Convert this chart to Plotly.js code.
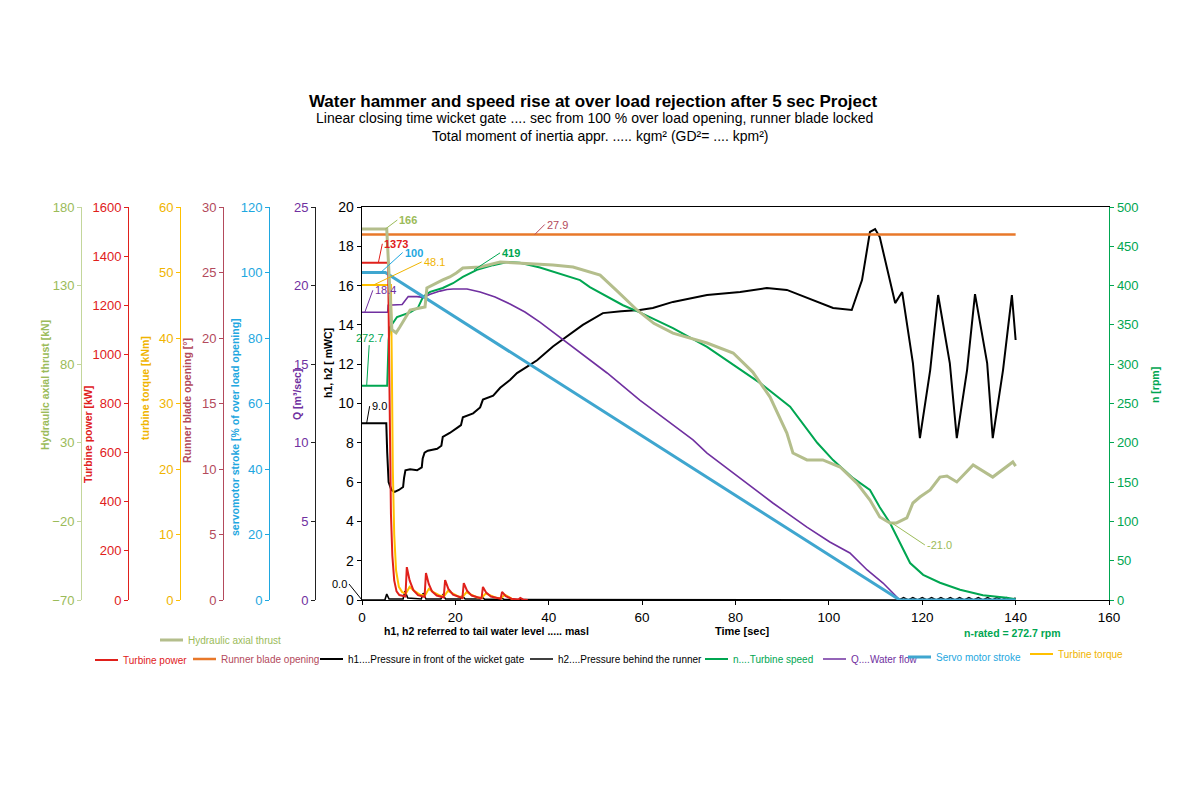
<!DOCTYPE html>
<html>
<head>
<meta charset="utf-8">
<script src="https://cdn.plot.ly/plotly-3.0.1.min.js"></script>
<style>html,body{margin:0;padding:0;background:#fff}#chart{width:1200px;height:800px}</style>
</head>
<body>
<div id="chart"></div>
<script>
// ---------------- DATA ----------------
// Hydraulic axial thrust [kN]
const thrustT = [0, 5.3, 6.4, 7.3, 8.1, 9.0, 10.3, 12.4, 13.5, 13.9, 15.5, 17.3, 18.8, 20.2, 21.6, 25.3, 29.6, 33.8, 40.9, 45.2, 51.0, 54.5, 58.9, 62.5, 66.6, 73.9, 79.5, 83.7, 87.4, 91.0, 92.3, 95.3, 98.7, 102.4, 106.0, 108.8, 110.9, 113.1, 114.5, 116.7, 118.0, 119.5, 121.7, 123.8, 125.3, 127.4, 130.9, 135.1, 139.4, 140];
const thrustV = [166, 166, 102, 100, 103.7, 108, 114.5, 115.8, 116.4, 128.5, 131, 133.6, 135.5, 138, 141.2, 141.8, 145.0, 144.4, 143.1, 141.8, 136.7, 127, 114.5, 106, 99.8, 93.5, 87.1, 75.0, 59.1, 36.2, 23.5, 19.1, 19.1, 14.6, 4.4, -6.4, -17.2, -21.0, -21.0, -17.8, -8.3, -4.5, 0, 8.2, 8.9, 5.1, 15.9, 8.2, 17.8, 15.2];

// n .... Turbine speed [rpm]
const speedT = [0, 5.4, 5.7, 6.0, 7.5, 10.3, 12.0, 13.1, 14.6, 17.3, 19.5, 21.6, 24.6, 28.1, 31.1, 33.8, 38.1, 41.8, 46.7, 48.8, 55.9, 59.5, 66.6, 73.9, 81.0, 85.3, 91.7, 93.8, 97.5, 100.9, 105.2, 108.8, 110.9, 113.1, 115.2, 117.4, 120.2, 123.8, 128.1, 133.0, 138.1, 140];
const speedV = [272.7, 272.7, 330, 347, 360, 366, 372, 386, 392, 397, 403, 411, 420, 426, 430, 429, 423, 416, 407, 398, 375, 366, 346, 322, 293, 276, 246, 229, 200, 178, 155, 140, 118, 98, 73, 47, 32, 22, 13, 6, 3, 1];

// Turbine power [kW]
const powerT = [0, 5.6, 5.8, 6.0, 6.2, 6.5, 6.9, 7.4, 8.0, 9.3, 9.6, 10.2, 11.0, 12.0, 13.4, 13.7, 14.3, 15.0, 16.0, 17.5, 17.8, 18.5, 19.5, 21.5, 21.8, 22.5, 23.5, 25.6, 25.9, 26.6, 27.6, 29.7, 30.0, 30.8, 32.0, 33.5, 33.9, 34.5, 35.5];
const powerV = [1373, 1373, 1000, 600, 350, 180, 80, 35, 20, 14, 134, 80, 40, 20, 12, 110, 65, 35, 18, 10, 81, 45, 22, 8, 69, 38, 18, 6, 53, 30, 14, 5, 33, 16, 5, 2, 8, 2, 0];

// Turbine torque [kNm]
const torqueT = [0, 6.2, 6.4, 6.6, 6.9, 7.3, 7.9, 8.6, 9.4, 10.2, 11.2, 12.5, 13.5, 14.3, 15.3, 16.6, 17.6, 18.4, 19.4, 20.7, 21.6, 22.4, 23.4, 24.7, 25.7, 26.5, 27.5, 28.8, 29.8, 30.6, 31.6, 32.5];
const torqueV = [48.1, 48.1, 35, 20, 10, 4.5, 2, 1.2, 1.0, 2.0, 1.4, 0.8, 0.7, 1.7, 1.2, 0.7, 0.6, 1.4, 1.0, 0.5, 0.5, 1.2, 0.8, 0.4, 0.4, 1.0, 0.7, 0.3, 0.3, 0.8, 0.4, 0];

// Servo motor stroke [% of over load opening]
const servoT = [0, 5, 115.2, 140];
const servoV = [100, 100, 0, 0];

// Q .... Water flow [m3/sec]
const flowT = [0, 5.5, 5.6, 8.6, 9.9, 11.8, 13.1, 14.6, 16.7, 18.2, 19.5, 22.5, 25.3, 28.5, 31.7, 34.9, 38.1, 45.2, 52.5, 59.5, 65.3, 70.9, 73.9, 81.0, 88.0, 95.3, 100.2, 104.5, 108.2, 111.6, 114.6, 115.2];
const flowV = [18.3, 18.3, 18.75, 18.8, 19.3, 19.3, 19.25, 19.45, 19.65, 19.75, 19.78, 19.78, 19.59, 19.27, 18.83, 18.32, 17.68, 16.09, 14.44, 12.72, 11.45, 10.18, 9.35, 7.76, 6.17, 4.64, 3.69, 2.99, 1.91, 1.08, 0.19, 0];

// Runner blade opening [deg]
const bladeT = [0, 140];
const bladeV = [27.9, 27.9];

// h1 .... Pressure in front of the wicket gate [mWC]
const h1T = [0, 5.2, 5.4, 5.7, 6.3, 7.0, 7.9, 8.8, 9.0, 9.3, 10.3, 11.8, 12.8, 13.0, 13.4, 14.1, 16.1, 17.0, 17.3, 18.8, 20.6, 21.2, 21.6, 23.8, 25.3, 25.9, 28.1, 29.6, 31.7, 33.2, 35.3, 37.5, 40.9, 43.9, 47.3, 51.6, 55.5, 59.5, 62.3, 66.6, 73.9, 81.0, 86.7, 91.0, 96.6, 100.9, 104.9, 107.1, 108.8, 109.9, 110.9, 112.7, 114.2, 115.7, 118.0, 119.5, 121.7, 123.4, 125.9, 127.4, 129.6, 131.3, 133.9, 135.1, 137.3, 139.2, 140];
const h1V = [9.0, 9.0, 7.5, 6.0, 5.6, 5.5, 5.6, 5.75, 6.2, 6.6, 6.65, 6.6, 6.75, 7.2, 7.5, 7.6, 7.7, 7.85, 8.3, 8.5, 8.8, 8.9, 9.3, 9.5, 9.8, 10.2, 10.4, 10.8, 11.2, 11.55, 11.86, 12.2, 12.9, 13.4, 14.0, 14.6, 14.7, 14.76, 14.86, 15.17, 15.52, 15.67, 15.88, 15.78, 15.27, 14.86, 14.76, 16.28, 18.73, 18.88, 18.47, 16.64, 15.11, 15.67, 12.06, 8.24, 11.70, 15.52, 12.06, 8.24, 11.70, 15.57, 12.06, 8.24, 11.70, 15.52, 13.23];

// h2 .... Pressure behind the runner [mWC]
const h2T = [0, 4.9, 5.3, 5.8, 8.8, 9.2, 9.8, 12.7, 13.1, 13.7, 16.9, 17.3, 17.9, 21.1, 21.5, 22.1, 25.3, 25.7, 26.3, 29.5, 29.9, 30.5, 115, 116, 117, 118, 119, 120, 121, 122, 123, 124, 125, 126, 127, 128, 129, 130, 131, 132, 133, 134, 135, 136, 137, 138, 139, 140];
const h2V = [0, 0, 0.3, 0.05, 0.05, 0.45, 0.1, 0.05, 0.35, 0.05, 0.05, 0.25, 0.05, 0.05, 0.2, 0.05, 0.05, 0.15, 0.03, 0.03, 0.1, 0.02, 0, 0.12, 0, 0.12, 0, 0.12, 0, 0.12, 0, 0.12, 0, 0.12, 0, 0.12, 0, 0.12, 0, 0.12, 0, 0.12, 0, 0.12, 0, 0.12, 0, 0.1];

// Axis tick settings (range, step)
const hRange = [0, 20], hStep = 2;
const nRange = [0, 500], nStep = 50;
const qRange = [0, 25], qStep = 5;
const servoRange = [0, 120], servoStep = 20;
const bladeRange = [0, 30], bladeStep = 5;
const torqueRange = [0, 60], torqueStep = 10;
const powerRange = [0, 1600], powerStep = 200;
const thrustRange = [-70, 180], thrustStep = 50;
const timeRange = [0, 160], timeStep = 20;

// ---------------- STYLE ----------------
const FONT = 'Liberation Sans, Arial, sans-serif';
const C = {
  thrustLine: '#b4be8c', thrustTxt: '#9bbb59', thrustAxis: '#c3d69b',
  power: '#e0201b', torque: '#ffc000', torqueTxt: '#f0b400',
  blade: '#e8782a', bladeTxt: '#b34a5c',
  servoLine: '#3fa6cf', servoTxt: '#1ea7e0',
  flow: '#7030a0', speed: '#00a651', black: '#000000'
};
const W = 1200, H = 800;
const px = v => v / W, py = v => 1 - v / H;

function leg(xText, yc, color) {
  return {x: px(xText - 40), y: py(yc), xanchor: 'left', yanchor: 'middle', orientation: 'h',
    bgcolor: 'rgba(0,0,0,0)', borderwidth: 0, itemwidth: 30, tracegroupgap: 0,
    font: {family: FONT, size: 10, color: color}};
}

const traces = [
  {x: thrustT, y: thrustV, yaxis: 'y8', name: 'Hydraulic axial thrust', legend: 'legend9', mode: 'lines', line: {color: C.thrustLine, width: 3}},
  {x: speedT, y: speedV, yaxis: 'y2', name: 'n....Turbine speed', legend: 'legend5', mode: 'lines', line: {color: C.speed, width: 2}},
  {x: flowT, y: flowV, yaxis: 'y3', name: 'Q....Water flow', legend: 'legend6', mode: 'lines', line: {color: C.flow, width: 1.6}},
  {x: servoT, y: servoV, yaxis: 'y4', name: 'Servo motor stroke', legend: 'legend7', mode: 'lines', line: {color: C.servoLine, width: 3}},
  {x: h1T, y: h1V, yaxis: 'y', name: 'h1....Pressure in front of the wicket gate', legend: 'legend3', mode: 'lines', line: {color: C.black, width: 2}},
  {x: h2T, y: h2V, yaxis: 'y', name: 'h2....Pressure behind the runner', legend: 'legend4', mode: 'lines', line: {color: C.black, width: 1.6}},
  {x: bladeT, y: bladeV, yaxis: 'y5', name: 'Runner blade opening', legend: 'legend2', mode: 'lines', line: {color: C.blade, width: 2.6}},
  {x: torqueT, y: torqueV, yaxis: 'y6', name: 'Turbine torque', legend: 'legend8', mode: 'lines', line: {color: C.torque, width: 2}},
  {x: powerT, y: powerV, yaxis: 'y7', name: 'Turbine power', legend: 'legend', mode: 'lines', line: {color: C.power, width: 2}}
];

const yDomain = [py(600), py(207)];
function freeAxis(range, step, pos, lineColor, txtColor) {
  return {range: range, tick0: range[0], dtick: step, overlaying: 'y', anchor: 'free', position: pos, side: 'left',
    showline: true, linecolor: lineColor, linewidth: 1.3, ticks: 'outside', ticklen: 4, tickcolor: lineColor,
    showgrid: false, zeroline: false, tickfont: {family: FONT, size: 13, color: txtColor}, fixedrange: true};
}

function axTitle(text, xc, yc, color) {
  return {text: '<b>' + text + '</b>', xref: 'paper', yref: 'paper', x: px(xc), y: py(yc), textangle: -90,
    showarrow: false, xanchor: 'center', yanchor: 'middle', font: {family: FONT, size: 10.5, color: color}};
}
function callout(text, xv, yv, yref, ax, ay, color, bold, xanchor) {
  return {text: bold ? '<b>' + text + '</b>' : text, x: xv, y: yv, xref: 'x', yref: yref, ax: ax, ay: ay,
    showarrow: true, arrowhead: 0, arrowwidth: 1, arrowcolor: color, standoff: 0, startstandoff: 0,
    xanchor: xanchor || 'center', yanchor: 'middle', font: {family: FONT, size: 11, color: color}};
}

const layout = {
  width: W, height: H, autosize: false,
  margin: {l: 0, r: 0, t: 0, b: 0, pad: 0},
  paper_bgcolor: '#ffffff', plot_bgcolor: '#ffffff',
  font: {family: FONT, color: '#000'},
  hovermode: false,
  title: {text: '<b>Water hammer and speed rise at over load rejection after 5 sec Project</b>',
    x: px(593), y: py(101), xanchor: 'center', yanchor: 'middle', font: {family: FONT, size: 17, color: '#000'}},
  xaxis: {domain: [px(362), px(1109)], range: timeRange, tick0: 0, dtick: timeStep, anchor: 'y',
    showline: true, linecolor: '#000', linewidth: 1.3, mirror: true, ticks: 'outside', ticklen: 4, tickcolor: '#000',
    showgrid: false, zeroline: false, tickfont: {family: FONT, size: 13.5, color: '#000'}, fixedrange: true},
  yaxis: {domain: yDomain, range: hRange, tick0: 0, dtick: hStep, anchor: 'x', side: 'left',
    showline: true, linecolor: '#000', linewidth: 1.3, ticks: 'outside', ticklen: 4, tickcolor: '#000',
    showgrid: false, zeroline: false, tickfont: {family: FONT, size: 14, color: '#000'}, fixedrange: true},
  yaxis2: {range: nRange, tick0: 0, dtick: nStep, overlaying: 'y', anchor: 'x', side: 'right',
    showline: true, linecolor: C.speed, linewidth: 1.3, ticks: 'outside', ticklen: 4, tickcolor: C.speed,
    showgrid: false, zeroline: false, tickfont: {family: FONT, size: 13, color: C.speed}, fixedrange: true},
  yaxis3: freeAxis(qRange, qStep, px(315), '#222', C.flow),
  yaxis4: freeAxis(servoRange, servoStep, px(269), C.servoTxt, C.servoTxt),
  yaxis5: freeAxis(bladeRange, bladeStep, px(223), C.bladeTxt, C.bladeTxt),
  yaxis6: freeAxis(torqueRange, torqueStep, px(180), C.torque, C.torqueTxt),
  yaxis7: freeAxis(powerRange, powerStep, px(128), C.power, C.power),
  yaxis8: freeAxis(thrustRange, thrustStep, px(81), C.thrustAxis, C.thrustTxt),
  showlegend: true,
  legend: leg(123, 660, C.power),
  legend2: leg(221, 659, C.bladeTxt),
  legend3: leg(348, 659, '#000'),
  legend4: leg(558, 659, '#000'),
  legend5: leg(733, 659, C.speed),
  legend6: leg(851, 659, C.flow),
  legend7: leg(936, 657, C.servoTxt),
  legend8: leg(1058, 654, C.torqueTxt),
  legend9: leg(188, 640, C.thrustTxt),
  annotations: [
    {text: 'Linear closing time wicket gate .... sec from 100 % over load opening, runner blade locked', xref: 'paper', yref: 'paper',
      x: px(594), y: py(118), showarrow: false, xanchor: 'center', yanchor: 'middle', font: {family: FONT, size: 14, color: '#000'}},
    {text: 'Total moment of inertia appr. ..... kgm² (GD²= .... kpm²)', xref: 'paper', yref: 'paper',
      x: px(600), y: py(136), showarrow: false, xanchor: 'center', yanchor: 'middle', font: {family: FONT, size: 14, color: '#000'}},
    axTitle('Hydraulic axial thrust [kN]', 45, 385, C.thrustTxt),
    axTitle('Turbine power [kW]', 88, 435, C.power),
    axTitle('turbine torque [kNm]', 145, 388, C.torqueTxt),
    axTitle('Runner blade opening [°]', 187, 401, C.bladeTxt),
    axTitle('servomotor stroke [% of over load opening]', 235, 427, C.servoTxt),
    axTitle('Q [m³/sec]', 297, 395, C.flow),
    axTitle('h1, h2 [ mWC]', 328, 363, '#000'),
    axTitle('n [rpm]', 1155, 385, C.speed),
    {text: '<b>h1, h2 referred to tail water level ..... masl</b>', xref: 'paper', yref: 'paper', x: px(486), y: py(631),
      showarrow: false, xanchor: 'center', yanchor: 'middle', font: {family: FONT, size: 10.5, color: '#000'}},
    {text: '<b>Time [sec]</b>', xref: 'paper', yref: 'paper', x: px(742), y: py(631),
      showarrow: false, xanchor: 'center', yanchor: 'middle', font: {family: FONT, size: 11, color: '#000'}},
    {text: '<b>n-rated = 272.7 rpm</b>', xref: 'paper', yref: 'paper', x: px(1012), y: py(633),
      showarrow: false, xanchor: 'center', yanchor: 'middle', font: {family: FONT, size: 10.5, color: C.speed}},
    callout('166', 5, 166, 'y8', 12, -9, C.thrustTxt, true, 'left'),
    callout('27.9', 37, 27.9, 'y5', 10, -10, C.bladeTxt, false, 'left'),
    callout('1373', 3.5, 1373, 'y7', 4, -19, C.power, true, 'left'),
    callout('100', 4, 100, 'y4', 22, -20, C.servoTxt, true, 'left'),
    callout('48.1', 2.5, 48.1, 'y6', 48, -23, C.torqueTxt, false, 'left'),
    callout('18.4', 0.6, 18.3, 'y3', 8, -22, C.flow, false, 'left'),
    callout('272.7', 1, 272.7, 'y2', 3, -48, C.speed, false, 'center'),
    callout('419', 24, 420, 'y2', 26, -17, C.speed, true, 'left'),
    callout('9.0', 1, 9.0, 'y', 3, -17, '#000', false, 'left'),
    callout('0.0', 0, 0, 'y', -13, -16, '#000', false, 'right'),
    callout('-21.0', 113.5, -21, 'y8', 33, 22, C.thrustTxt, false, 'left')
  ]
};

Plotly.newPlot('chart', traces, layout, {staticPlot: true, displayModeBar: false}).then(function (gd) {
  // shorten the legend line samples to the reference's shorter keys
  gd.querySelectorAll('.legendlines path').forEach(function (p) { p.setAttribute('d', 'M12,0h23'); });
});
</script>
</body>
</html>
